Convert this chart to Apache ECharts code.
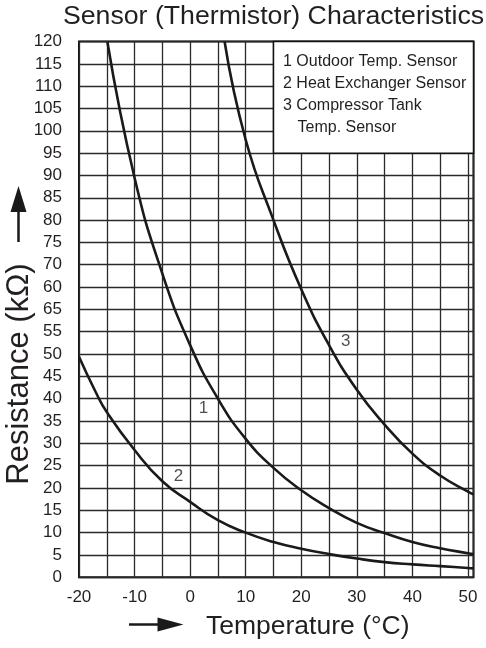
<!DOCTYPE html>
<html>
<head>
<meta charset="utf-8">
<script src="https://cdn.jsdelivr.net/npm/echarts@6/dist/echarts.min.js"></script>
<style>
html,body{margin:0;padding:0;background:#fff;}
#c{width:486px;height:648px;}
</style>
</head>
<body>
<div id="c"></div>
<script>
// ---- data ----
var titleText = 'Sensor (Thermistor) Characteristics';
var xName = 'Temperature (\u00B0C)';
var yName = 'Resistance (k\u03A9)';

// tick labels (the reference swaps the 60 / 65 labels)
var yTickLabels = ['0','5','10','15','20','25','30','35','40','45','50','55','65','60','70','75','80','85','90','95','100','105','110','115','120'];
var xTickLabels = ['-20','-10','0','10','20','30','40','50'];

var legendLines = ['1 Outdoor Temp. Sensor', '2 Heat Exchanger Sensor', '3 Compressor Tank', 'Temp. Sensor'];

// curve 1 : Outdoor temp. sensor
var s1Temp = [-14.9, -10, -5, 0, 5, 10, 15, 20, 25, 30, 35, 40, 45, 50, 51];
var s1Res  = [120, 89.5, 68, 52, 40, 31, 24.5, 19.5, 15.5, 12.2, 9.9, 7.9, 6.5, 5.4, 5.2];
// curve 2 : Heat exchanger sensor
var s2Temp = [-20, -17, -15, -10, -5, 0, 5, 10, 15, 20, 25, 30, 35, 40, 45, 50, 51];
var s2Res  = [49.4, 41.5, 37, 28.5, 21.5, 16.9, 12.8, 10, 7.9, 6.4, 5.2, 4.2, 3.4, 2.9, 2.5, 2.1, 2.0];
// curve 3 : Compressor tank temp. sensor
var s3Temp = [6.2, 10, 15, 20, 25, 30, 35, 40, 45, 50, 51];
var s3Res  = [120, 98, 80, 64.5, 52, 42, 34.2, 27.7, 22.8, 19.2, 18.6];

// curve number annotations (temperature, resistance, text)
var noteTemp = [2.4, -2.1, 28.0];
var noteRes  = [37.9, 22.6, 52.8];
var noteText = ['1', '2', '3'];

// legend box extent (temperature / resistance)
var legendBoxTemp = [15, 51];
var legendBoxRes  = [95, 120];

// ---- chart ----
function zip(a, b) { return a.map(function (v, i) { return [v, b[i]]; }); }
var FONT = '"Liberation Sans", Arial, Helvetica, sans-serif';
var INK = '#1a1a1a';

var chart = echarts.init(document.getElementById('c'), null, {renderer: 'canvas'});

var lineStyle = {color: INK, width: 2.6};

var option = {
  animation: false,
  backgroundColor: '#fff',
  grid: {left: 79, right: 12.5, top: 41.5, bottom: 70.7, show: true, borderColor: '#111', borderWidth: 2, backgroundColor: 'transparent'},
  xAxis: {
    type: 'value', min: -20, max: 51, interval: 5,
    axisLine: {show: false}, axisTick: {show: false},
    splitLine: {show: true, lineStyle: {color: '#2a2a2a', width: 1.3}},
    axisLabel: {
      margin: 12, fontSize: 17, fontFamily: FONT, color: '#231f20',
      showMaxLabel: false,
      formatter: function (v) {
        var s = String(v);
        return xTickLabels.indexOf(s) >= 0 ? s : '';
      }
    }
  },
  yAxis: {
    type: 'value', min: 0, max: 120, interval: 5,
    axisLine: {show: false}, axisTick: {show: false},
    splitLine: {show: true, lineStyle: {color: '#2a2a2a', width: 1.3}},
    axisLabel: {
      margin: 17, fontSize: 17, fontFamily: FONT, color: '#231f20',
      formatter: function (v) { return yTickLabels[Math.round(v / 5)]; }
    }
  },
  series: [
    {type: 'line', name: '1', data: zip(s1Temp, s1Res), smooth: 0.5, showSymbol: false, symbol: 'none', lineStyle: lineStyle, z: 3},
    {type: 'line', name: '2', data: zip(s2Temp, s2Res), smooth: 0.5, showSymbol: false, symbol: 'none', lineStyle: lineStyle, z: 3},
    {type: 'line', name: '3', data: zip(s3Temp, s3Res), smooth: 0.5, showSymbol: false, symbol: 'none', lineStyle: lineStyle, z: 3,
      markArea: {
        silent: true,
        itemStyle: {color: '#fff', borderColor: '#111', borderWidth: 1.5},
        data: [[{coord: [legendBoxTemp[0], legendBoxRes[0]]}, {coord: [legendBoxTemp[1], legendBoxRes[1]]}]]
      }
    },
    {type: 'scatter', name: 'notes', symbolSize: 1, itemStyle: {color: 'rgba(0,0,0,0)'}, z: 4,
      data: noteTemp.map(function (t, i) { return [t, noteRes[i], noteText[i]]; }),
      label: {show: true, position: 'inside', fontSize: 17, fontFamily: FONT, color: '#231f20',
        formatter: function (p) { return p.value[2]; }}
    }
  ],
  graphic: [
    {type: 'text', x: 273.5, y: 17, style: {text: titleText, font: '26.7px ' + FONT, fill: '#231f20', align: 'center', verticalAlign: 'middle'}},
    // legend text
    {type: 'text', x: 283, y: 62, z: 100, style: {text: legendLines[0], font: '16px ' + FONT, fill: '#231f20', align: 'left', verticalAlign: 'middle'}},
    {type: 'text', x: 283, y: 84, z: 100, style: {text: legendLines[1], font: '16px ' + FONT, fill: '#231f20', align: 'left', verticalAlign: 'middle'}},
    {type: 'text', x: 283, y: 106, z: 100, style: {text: legendLines[2], font: '16px ' + FONT, fill: '#231f20', align: 'left', verticalAlign: 'middle'}},
    {type: 'text', x: 297.5, y: 128, z: 100, style: {text: legendLines[3], font: '16px ' + FONT, fill: '#231f20', align: 'left', verticalAlign: 'middle'}},
    // x axis name + arrow
    {type: 'text', x: 206, y: 627, style: {text: xName, font: '26.5px ' + FONT, fill: '#231f20', align: 'left', verticalAlign: 'middle'}},
    {type: 'line', shape: {x1: 129, y1: 624.5, x2: 162, y2: 624.5}, style: {stroke: INK, lineWidth: 2.5}},
    {type: 'polygon', shape: {points: [[183.5, 624.5], [157.5, 617.5], [157.5, 631.5]]}, style: {fill: INK}},
    // y axis name + arrow
    {type: 'text', x: 19, y: 374, rotation: Math.PI / 2, style: {text: yName, font: '31px ' + FONT, fill: '#231f20', align: 'center', verticalAlign: 'middle'}},
    {type: 'line', shape: {x1: 18.5, y1: 242, x2: 18.5, y2: 206}, style: {stroke: INK, lineWidth: 2.5}},
    {type: 'polygon', shape: {points: [[18.5, 186], [10.5, 212], [26.5, 212]]}, style: {fill: INK}}
  ]
};
chart.setOption(option);
</script>
</body>
</html>
